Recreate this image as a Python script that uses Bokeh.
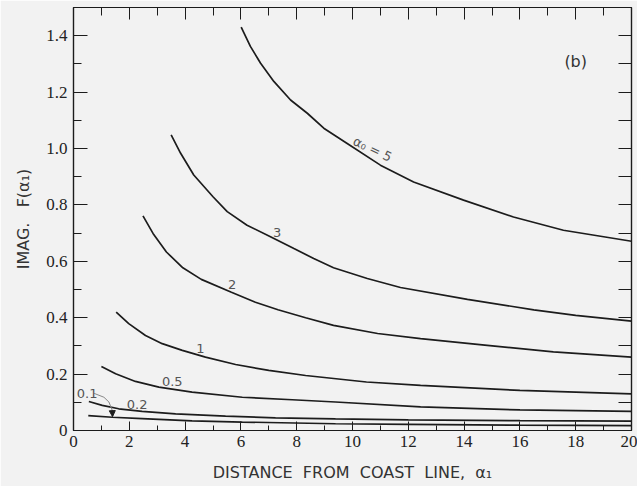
from bokeh.plotting import figure
from bokeh.models import (Range1d, LinearAxis, FixedTicker, Label, Arrow, NormalHead)
from bokeh.core.properties import value
from bokeh.embed import file_html
from bokeh.resources import INLINE

# ---- data ----
x_a5 = [6.01, 6.34, 6.70, 7.18, 7.78, 8.38, 8.97, 9.81, 11.0, 12.19, 13.98, 15.77, 17.56, 20.0]
y_a5 = [1.430, 1.362, 1.303, 1.238, 1.172, 1.125, 1.072, 1.018, 0.941, 0.881, 0.817, 0.757, 0.710, 0.671]

x_a3 = [3.50, 3.84, 4.31, 5.00, 5.51, 6.22, 7.06, 7.90, 8.61, 9.32, 10.53, 11.72, 14.12, 16.5, 18.0, 20.0]
y_a3 = [1.048, 0.983, 0.906, 0.829, 0.776, 0.728, 0.687, 0.645, 0.610, 0.577, 0.539, 0.507, 0.465, 0.428, 0.408, 0.388]

x_a2 = [2.49, 2.85, 3.33, 3.92, 4.58, 5.66, 6.52, 7.33, 8.32, 9.32, 10.9, 12.44, 14.83, 17.2, 20.0]
y_a2 = [0.761, 0.699, 0.633, 0.577, 0.536, 0.490, 0.455, 0.428, 0.400, 0.373, 0.344, 0.326, 0.302, 0.279, 0.260]

x_a1 = [1.53, 1.98, 2.58, 3.18, 3.90, 4.73, 5.81, 7.0, 8.32, 10.5, 12.44, 16.0, 20.0]
y_a1 = [0.420, 0.379, 0.337, 0.308, 0.284, 0.260, 0.234, 0.213, 0.195, 0.172, 0.160, 0.142, 0.130]

x_a05 = [1.0, 1.51, 2.22, 3.06, 4.25, 6.05, 7.84, 9.39, 12.44, 16.0, 20.0]
y_a05 = [0.227, 0.201, 0.174, 0.154, 0.136, 0.118, 0.109, 0.101, 0.084, 0.073, 0.0675]

x_a02 = [0.55, 1.03, 1.62, 2.46, 3.66, 5.45, 7.24, 9.39, 12.0, 16.0, 20.0]
y_a02 = [0.103, 0.089, 0.077, 0.068, 0.059, 0.051, 0.045, 0.041, 0.038, 0.035, 0.033]

x_a01 = [0.53, 1.39, 2.46, 4.25, 6.05, 9.39, 12.0, 16.0, 20.0]
y_a01 = [0.053, 0.047, 0.042, 0.034, 0.030, 0.024, 0.022, 0.019, 0.017]

series = [(x_a5, y_a5), (x_a3, y_a3), (x_a2, y_a2), (x_a1, y_a1),
          (x_a05, y_a05), (x_a02, y_a02), (x_a01, y_a01)]

curve_labels = ["α\u2080 = 5", "3", "2", "1", "0.5", "0.2", "0.1"]
label_x = [10.72, 7.30, 5.69, 4.55, 3.54, 2.28, 0.49]
label_y = [0.998, 0.702, 0.519, 0.292, 0.172, 0.091, 0.130]
label_angle = [-0.44, 0.0, 0.0, 0.0, 0.0, 0.0, 0.0]

leader_x = [0.73, 1.09, 1.27, 1.39]
leader_y = [0.132, 0.118, 0.101, 0.071]
arrow_tip = (1.40, 0.049)

x_ticks = [0, 2, 4, 6, 8, 10, 12, 14, 16, 18, 20]
x_minor = [1, 3, 5, 7, 9, 11, 13, 15, 17, 19]
y_ticks = [0, 0.2, 0.4, 0.6, 0.8, 1.0, 1.2, 1.4]
y_tick_labels = ["0", "0.2", "0.4", "0.6", "0.8", "1.0", "1.2", "1.4"]
y_minor = [0.1, 0.3, 0.5, 0.7, 0.9, 1.1, 1.3]
y_right = [0.1, 0.2, 0.3, 0.4, 0.5, 0.6, 0.7, 0.8, 0.9, 1.0, 1.1, 1.2, 1.3, 1.4]

NB = "\u00a0"
x_title = (NB * 2).join(["DISTANCE", "FROM", "COAST", "LINE,", "α\u2081"])
y_title = "IMAG." + NB * 3 + "F(α\u2081)"

BG = "#f2f2f2"
INK = "#1c1c1c"
TICKFONT = "Liberation Sans Narrow"

p = figure(width=637, height=486, x_range=Range1d(0, 20), y_range=Range1d(0, 1.5),
           output_backend="svg", toolbar_location=None,
           min_border_left=73, min_border_right=6, min_border_top=7, min_border_bottom=56)
p.background_fill_color = BG
p.border_fill_color = BG
p.grid.visible = False
p.outline_line_color = INK
p.outline_line_width = 1.2

for xs, ys in series:
    p.line(xs, ys, line_color=INK, line_width=1.7)

p.text(x=label_x, y=label_y, text=curve_labels, angle=label_angle,
       text_font=value("DejaVu Sans"), text_font_size="13px", text_color="#555555",
       text_align="center", text_baseline="middle")

p.line(leader_x, leader_y, line_color="#888888", line_width=1)
p.add_layout(Arrow(end=NormalHead(size=6, fill_color=INK, line_color=INK),
                   x_start=leader_x[-1], y_start=leader_y[-1],
                   x_end=arrow_tip[0], y_end=arrow_tip[1],
                   line_color=INK, line_width=1.2))

p.add_layout(Label(x=18.0, y=1.31, text="(b)", text_font="DejaVu Sans",
                   text_font_size="16px", text_color="#333333",
                   text_align="center", text_baseline="middle"))

# bottom axis
xa = p.xaxis[0]
xa.ticker = FixedTicker(ticks=x_ticks, minor_ticks=x_minor)
xa.major_tick_in = 9
xa.major_tick_out = 0
xa.minor_tick_in = 5
xa.minor_tick_out = 0
xa.axis_line_color = INK
xa.axis_line_width = 1.2
xa.major_tick_line_color = INK
xa.minor_tick_line_color = INK
xa.major_label_text_font = TICKFONT
xa.major_label_text_font_size = "17px"
xa.major_label_text_color = "#222222"
xa.major_label_standoff = 5
xa.axis_label = x_title
xa.axis_label_text_font = "DejaVu Sans"
xa.axis_label_text_font_style = "normal"
xa.axis_label_text_font_size = "16px"
xa.axis_label_text_color = "#333333"
xa.axis_label_standoff = 13

# left axis
ya = p.yaxis[0]
ya.ticker = FixedTicker(ticks=y_ticks, minor_ticks=y_minor)
ya.major_label_overrides = dict(zip(y_ticks, y_tick_labels))
ya.major_tick_in = 14
ya.major_tick_out = 0
ya.minor_tick_in = 8
ya.minor_tick_out = 0
ya.axis_line_color = INK
ya.axis_line_width = 1.2
ya.major_tick_line_color = INK
ya.minor_tick_line_color = INK
ya.major_label_text_font = TICKFONT
ya.major_label_text_font_size = "17px"
ya.major_label_text_color = "#222222"
ya.major_label_standoff = 6
ya.axis_label = y_title
ya.axis_label_text_font = "DejaVu Sans"
ya.axis_label_text_font_style = "normal"
ya.axis_label_text_font_size = "16px"
ya.axis_label_text_color = "#333333"
ya.axis_label_standoff = 10

# top axis (ticks only)
top = LinearAxis(ticker=FixedTicker(ticks=x_ticks, minor_ticks=x_minor),
                 major_tick_in=12, major_tick_out=0, minor_tick_in=8, minor_tick_out=0,
                 major_label_overrides={t: "" for t in x_ticks}, major_label_standoff=0,
                 axis_line_color=INK, axis_line_width=1.2,
                 major_tick_line_color=INK, minor_tick_line_color=INK)
p.add_layout(top, "above")

# right axis (ticks only)
right = LinearAxis(ticker=FixedTicker(ticks=y_right, minor_ticks=[]),
                   major_tick_in=13, major_tick_out=0, minor_tick_in=0, minor_tick_out=0,
                   major_label_overrides={t: "" for t in y_right}, major_label_standoff=0,
                   axis_line_color=INK, axis_line_width=1.2,
                   major_tick_line_color=INK)
p.add_layout(right, "right")

open("out.html", "w").write(file_html(p, INLINE))
